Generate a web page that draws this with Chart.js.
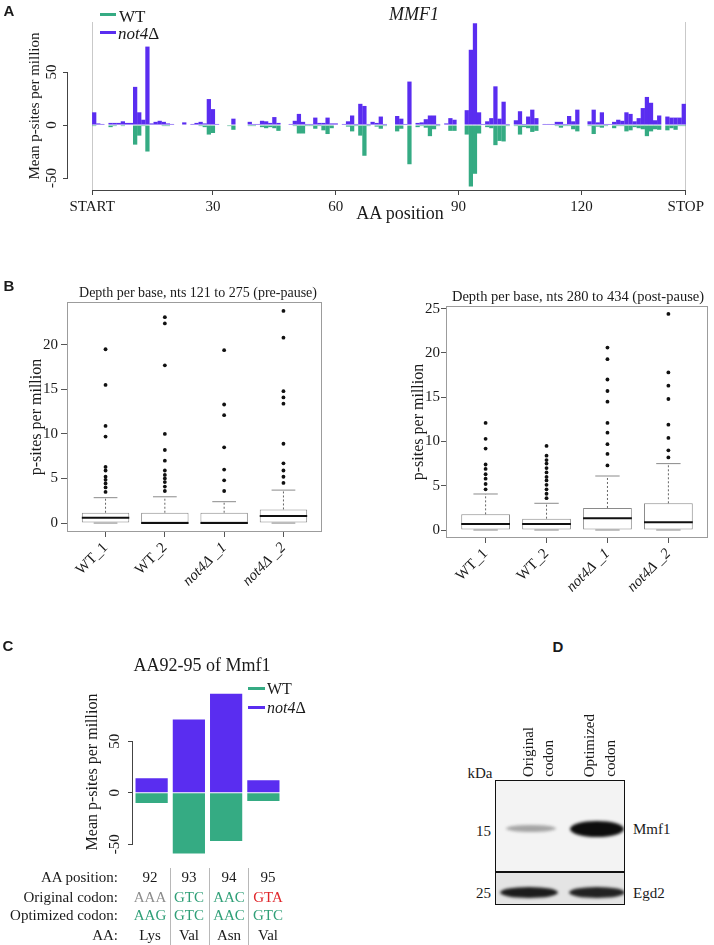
<!DOCTYPE html>
<html>
<head>
<meta charset="utf-8">
<title>MMF1 p-sites</title>
<script src="https://cdn.jsdelivr.net/npm/chart.js@4.4.1/dist/chart.umd.min.js"></script>
<style>
  html, body { margin: 0; padding: 0; background: #fff; }
  #page { position: relative; width: 714px; height: 945px; overflow: hidden;
          font-family: 'Liberation Serif', 'Times New Roman', serif; color: #1a1a1a; }
  #page canvas { position: absolute; }
  .t { position: absolute; white-space: nowrap; line-height: 1; }
  .c { transform: translate(-50%, -50%); }
  .l { transform: translate(0, -50%); }
  .r { transform: translate(-100%, -50%); }
  .letter { font-family: 'Liberation Sans', Arial, sans-serif; font-weight: bold; font-size: 15px; }
  .key { position: absolute; height: 3px; }
  .sep { position: absolute; width: 1px; background: #b8b8b8; }
  .vert { position: absolute; writing-mode: vertical-rl; transform: rotate(180deg);
          font-size: 15px; line-height: 1; white-space: nowrap; }
  .green { color: #2f9f77; }
  .band { position: absolute; border-radius: 50%; }
</style>
</head>
<body>
<div id="page">
  <canvas id="chartA" width="714" height="235" style="left:0;top:0"></canvas>
  <canvas id="chartPre" width="357" height="325" style="left:0;top:280px"></canvas>
  <canvas id="chartPost" width="357" height="325" style="left:357px;top:280px"></canvas>
  <canvas id="chartC" width="360" height="230" style="left:0;top:640px"></canvas>

  <!-- panel A -->
  <div class="t c letter" style="left:9px;top:10px">A</div>
  <div class="t c" style="left:414px;top:14px;font-size:18px;font-style:italic">MMF1</div>
  <div class="key" style="left:100px;top:13px;width:16px;background:#35AB83"></div>
  <div class="t l" style="left:119px;top:16px;font-size:17px">WT</div>
  <div class="key" style="left:100px;top:31px;width:16px;background:#5A2DF0"></div>
  <div class="t l" style="left:118px;top:33px;font-size:17px"><i>not4</i>Δ</div>
  <div class="t c" style="left:400px;top:213px;font-size:18px">AA position</div>

  <!-- panel B -->
  <div class="t c letter" style="left:9px;top:285px">B</div>
  <div class="t c" style="left:198px;top:293px;font-size:14px">Depth per base, nts 121 to 275 (pre-pause)</div>
  <div class="t c" style="left:578px;top:296px;font-size:14.5px">Depth per base, nts 280 to 434 (post-pause)</div>

  <!-- panel C -->
  <div class="t c letter" style="left:8px;top:645px">C</div>
  <div class="t c" style="left:202px;top:665px;font-size:18px">AA92-95 of Mmf1</div>
  <div class="key" style="left:248px;top:687px;width:17px;background:#35AB83"></div>
  <div class="t l" style="left:267px;top:689px;font-size:16px">WT</div>
  <div class="key" style="left:248px;top:706px;width:17px;background:#5A2DF0"></div>
  <div class="t l" style="left:267px;top:708px;font-size:16px"><i>not4</i>Δ</div>

  <div class="sep" style="left:170px;top:868px;height:77px"></div>
  <div class="sep" style="left:209px;top:868px;height:77px"></div>
  <div class="sep" style="left:248px;top:868px;height:77px"></div>
  <div id="codonTable"></div>

  <!-- panel D -->
  <div class="t c letter" style="left:558px;top:646px">D</div>
  <div class="t c" style="left:480px;top:773px;font-size:15px">kDa</div>
  <div class="vert" style="left:521px;bottom:168px">Original</div>
  <div class="vert" style="left:541px;bottom:168px">codon</div>
  <div class="vert" style="left:582px;bottom:168px">Optimized</div>
  <div class="vert" style="left:603px;bottom:168px">codon</div>
  <div style="position:absolute;left:495px;top:780px;width:130px;height:125px;border:1.5px solid #111;box-sizing:border-box;background:#f3f3f3;overflow:hidden">
    <div style="position:absolute;left:0;right:0;top:91px;bottom:0;background:#e4e4e4"></div>
    <div class="band" style="left:10px;top:44px;width:50px;height:7px;background:rgba(70,70,70,0.45);filter:blur(1.5px)"></div>
    <div class="band" style="left:74px;top:40px;width:54px;height:16px;background:#0d0d0d;filter:blur(1.5px)"></div>
    <div class="band" style="left:4px;top:106px;width:58px;height:11px;background:#1c1c1c;filter:blur(1.5px)"></div>
    <div class="band" style="left:73px;top:106px;width:56px;height:11px;background:#222;filter:blur(1.5px)"></div>
    <div style="position:absolute;left:0;right:0;top:90px;height:1.5px;background:#111"></div>
  </div>
  <div class="t l" style="left:633px;top:829px;font-size:15px">Mmf1</div>
  <div class="t r" style="left:491px;top:831px;font-size:15px">15</div>
  <div class="t l" style="left:633px;top:893px;font-size:15px">Egd2</div>
  <div class="t r" style="left:491px;top:893px;font-size:15px">25</div>
</div>

<script>
// ---- panel A: mean p-sites per AA (AA 1..145) ----
const aaNot4 = [
  12, 1.5, 1, 0.5, 2, 2, 2, 3.5, 2, 2,
  36, 12, 5, 74, 1.5, 3, 4, 3, 1.5, 1,
  0.5, 0.5, 2.5, 0, 1, 2, 3, 1.5, 24.5, 15,
  1, 0.5, 0, 0.5, 6, 0.5, 0.5, 0.5, 3, 1,
  1, 4, 3.5, 2, 7.5, 2, 0.5, 0.5, 1, 4,
  10.5, 3, 1, 1, 7, 2, 2, 7, 1.5, 1.5,
  0.5, 1, 3.5, 9, 1, 20, 18, 1, 3, 2,
  8, 1, 0.5, 0.5, 8.5, 6, 1, 41, 0.5, 2,
  2.5, 5.5, 9, 9, 1, 0, 1.5, 6.5, 5, 0.5,
  0.5, 14, 71, 96, 12, 1, 3.5, 6.5, 36.5, 6,
  22, 1, 0.5, 4.5, 13, 1, 8, 14.5, 6.5, 0.5,
  1, 1, 1, 3, 3, 1, 8.5, 3.5, 14.5, 0,
  0.5, 3.5, 14.5, 2.5, 12, 1, 1, 3, 5, 4,
  12, 10.5, 3.5, 6.5, 16, 26.5, 21, 4.5, 9, 0.5,
  8, 7, 7, 7, 20
];
const aaWT = [
  -1, 0, 0, -0.5, -2, -1, -0.5, -1, 0, -0.5,
  -18.5, -10, -1, -25, 0, 0, -0.5, -1, -1, -0.5,
  0, 0, 0, 0, 0, -0.5, -1, -2, -9, -7.5,
  0, 0, 0, -1, -4.5, 0, 0, -0.5, -1, -1,
  -0.5, -2, -3, -2, -3, -5.5, -0.5, 0, -0.5, -1,
  -8, -8, -1, -1, -3.5, -1, -5, -8.5, -3, -0.5,
  0, -0.5, -1.5, -6, -1, -10, -29, -1, 0, -1.5,
  -3.5, -1, 0, 0, -6, -3.5, -0.5, -37, 0, -2,
  -1, -2.5, -10.5, -4, -1, 0, -0.5, -5.5, -5.5, 0,
  0, -9, -58, -46, -8, -0.5, -2, -3, -19, -15,
  -15.5, -1, 0, -1, -9, -2, -3, -6.5, -5.5, 0,
  0, 0, 0, -1, -2.5, -1, -1, -4, -6, 0,
  0, -1, -8.5, -1.5, -2.5, -1, -0.5, -3, -1, -1,
  -6, -5, -2, -3, -4, -10.5, -6, -4, -4.5, -0.5,
  -5, -3, -4.5, -1, -1
];
const aaTickVals = [0.5, 30, 60, 90, 120, 145.5];
const aaTickLabels = ['START', '30', '60', '90', '120', 'STOP'];
const aaYTicks = [-50, 0, 50];

// ---- panel B: box plots ----
const boxGroups = ['WT_1', 'WT_2', 'not4Δ _1', 'not4Δ _2'];
const preLow = [0, 0, 0, 0];
const preQ1 = [0, 0, 0, 0];
const preMed = [0.6, 0, 0, 0.8];
const preQ3 = [1.16, 1.16, 1.16, 1.53];
const preHigh = [2.85, 2.95, 2.4, 3.7];
const preOut = [
  [3.5, 4.0, 4.45, 4.85, 5.2, 5.9, 6.3, 9.7, 10.9, 15.5, 19.5],
  [3.6, 4.1, 4.6, 5.0, 5.4, 5.9, 7.0, 8.2, 10.0, 17.7, 22.4, 23.1],
  [3.6, 4.8, 6.0, 8.5, 12.1, 13.3, 19.4],
  [4.5, 5.2, 5.9, 6.7, 8.9, 13.4, 14.1, 14.8, 20.8, 23.8]
];
const preYTicks = [0, 5, 10, 15, 20];

const postLow = [0, 0, 0, 0];
const postQ1 = [0, 0, 0, 0];
const postMed = [0.68, 0.68, 1.32, 0.87];
const postQ3 = [1.77, 1.28, 2.49, 3.02];
const postHigh = [4.07, 3.02, 6.1, 7.5];
const postOut = [
  [4.6, 5.2, 5.8, 6.3, 6.9, 7.4, 9.2, 10.3, 12.1],
  [3.6, 4.1, 4.6, 5.1, 5.6, 6.0, 6.5, 7.0, 7.5, 7.9, 8.4, 9.5],
  [7.3, 8.6, 9.7, 11.0, 12.1, 14.5, 15.7, 17.0, 19.3, 20.6],
  [8.2, 9.0, 10.4, 11.9, 14.8, 16.3, 17.8, 24.4]
];
const postYTicks = [0, 5, 10, 15, 20, 25];

// ---- panel C: AA 92-95 ----
const pauseAA = ['92', '93', '94', '95'];
const pauseNot4 = [14, 71, 96, 12];
const pauseWT = [-10, -59, -47, -8];
const originalCodon = ['AAA', 'GTC', 'AAC', 'GTA'];
const optimizedCodon = ['AAG', 'GTC', 'AAC', 'GTC'];
const aminoAcid = ['Lys', 'Val', 'Asn', 'Val'];

const PURPLE = '#5A2DF0';
const GREEN = '#35AB83';

Chart.defaults.font.family = "'Liberation Serif', 'Times New Roman', serif";
Chart.defaults.color = '#1a1a1a';

/* R-like axes: axis lines only between first and last tick, optional box frame */
const rAxes = {
  id: 'rAxes',
  afterDraw(chart, args, opts) {
    const {ctx, chartArea: a, scales} = chart;
    ctx.save();
    ctx.lineWidth = 1;
    if (opts.frame) {
      ctx.strokeStyle = opts.frame;
      ctx.strokeRect(a.left + 0.5, a.top + 0.5, a.width - 1, a.height - 1);
    }
    ctx.strokeStyle = '#444';
    if (opts.x) {
      const x0 = scales.x.getPixelForValue(opts.x[0]);
      const x1 = scales.x.getPixelForValue(opts.x[1]);
      ctx.beginPath();
      ctx.moveTo(x0, a.bottom + 0.5);
      ctx.lineTo(x1, a.bottom + 0.5);
      ctx.stroke();
    }
    if (opts.y) {
      const y0 = scales.y.getPixelForValue(opts.y[0]);
      const y1 = scales.y.getPixelForValue(opts.y[1]);
      ctx.beginPath();
      ctx.moveTo(a.left - 0.5, y0);
      ctx.lineTo(a.left - 0.5, y1);
      ctx.stroke();
    }
    ctx.restore();
  }
};
Chart.register(rAxes);

function fixedTicks(values) {
  return function(scale) { scale.ticks = values.map(v => ({value: v})); };
}

/* Panel A */
new Chart(document.getElementById('chartA'), {
  type: 'bar',
  data: {
    datasets: [
      {label: 'not4Δ', data: aaNot4.map((v, i) => ({x: i + 1, y: v})), backgroundColor: PURPLE},
      {label: 'WT', data: aaWT.map((v, i) => ({x: i + 1, y: v})), backgroundColor: GREEN}
    ]
  },
  options: {
    responsive: false,
    animation: false,
    events: [],
    layout: {padding: {left: 0, right: 20, top: 22, bottom: 0}},
    datasets: {bar: {grouped: false, barPercentage: 1.04, categoryPercentage: 1, borderWidth: 0}},
    plugins: {
      legend: {display: false},
      tooltip: {enabled: false},
      rAxes: {x: [aaTickVals[0], aaTickVals[aaTickVals.length - 1]], y: [-50, 50]}
    },
    scales: {
      x: {
        type: 'linear', min: -5.4, max: 147.5, offset: false,
        afterBuildTicks: fixedTicks(aaTickVals),
        afterFit: s => { s.height = 45; },
        ticks: {callback: (v, i) => aaTickLabels[i], autoSkip: false, maxRotation: 0, padding: 3, font: {size: 15}},
        grid: {
          offset: false, drawOnChartArea: true, tickLength: 5, tickColor: '#444',
          color: c => (c.tick && (c.tick.value === 0.5 || c.tick.value === 145.5)) ? '#c9c9c9' : 'rgba(0,0,0,0)'
        },
        border: {display: false}
      },
      y: {
        min: -61.3, max: 97.2,
        afterBuildTicks: fixedTicks(aaYTicks),
        afterFit: s => { s.width = 68; },
        ticks: {minRotation: 90, maxRotation: 90, crossAlign: 'center', padding: 1, font: {size: 15}},
        grid: {drawOnChartArea: false, tickLength: 5, tickColor: '#444'},
        border: {display: false},
        title: {display: true, text: 'Mean p-sites per million', font: {size: 15}, padding: {top: 26, bottom: 0}}
      }
    }
  }
});

/* Panel B box plots */
function boxChart(id, low, q1, med, q3, high, out, yMin, yMax, yTicks, lay) {
  const halfPx = (c, u) => {
    const s = c.chart.scales.x;
    return Math.abs(s.getPixelForValue(1 + u) - s.getPixelForValue(1));
  };
  const whiskers = [];
  const caps = [];
  boxGroups.forEach((g, i) => {
    whiskers.push({x: i + 1, y: q3[i]}, {x: i + 1, y: high[i]}, {x: i + 1, y: null});
    whiskers.push({x: i + 1, y: low[i]}, {x: i + 1, y: q1[i]}, {x: i + 1, y: null});
    caps.push({x: i + 1, y: high[i]}, {x: i + 1, y: low[i]});
  });
  const outliers = out.flatMap((arr, i) => arr.map(v => ({x: i + 1, y: v})));

  new Chart(document.getElementById(id), {
    type: 'bar',
    data: {
      datasets: [
        {type: 'scatter', data: outliers, pointStyle: 'circle', radius: 1.9,
         backgroundColor: '#111', borderWidth: 0, order: 1},
        {type: 'scatter', data: med.map((v, i) => ({x: i + 1, y: v})), pointStyle: 'line',
         radius: c => halfPx(c, 0.4), borderColor: '#111', borderWidth: 2, order: 1},
        {type: 'scatter', data: caps, pointStyle: 'line',
         radius: c => halfPx(c, 0.2), borderColor: '#8a8a8a', borderWidth: 1, order: 2},
        {type: 'line', data: whiskers, borderColor: '#666', borderWidth: 1, borderDash: [2, 2],
         pointRadius: 0, spanGaps: false, fill: false, order: 3},
        {type: 'bar', data: q1.map((v, i) => ({x: i + 1, y: [v, q3[i]]})), backgroundColor: '#fff',
         borderColor: '#8a8a8a', borderWidth: 1, borderSkipped: false,
         barPercentage: 0.8, categoryPercentage: 1, order: 4}
      ]
    },
    options: {
      responsive: false,
      animation: false,
      events: [],
      layout: {padding: {left: 0, right: lay.right, top: lay.top, bottom: 0}},
      plugins: {legend: {display: false}, tooltip: {enabled: false}, rAxes: {frame: '#9c9c9c'}},
      scales: {
        x: {
          type: 'linear', min: 0.35, max: 4.65, offset: false,
          afterBuildTicks: fixedTicks([1, 2, 3, 4]),
          afterFit: s => { s.height = lay.xHeight; },
          ticks: {
            callback: (v, i) => boxGroups[i], autoSkip: false, minRotation: 45, maxRotation: 45, padding: 2,
            font: c => ({size: 15, style: c.index >= 2 ? 'italic' : 'normal'})
          },
          grid: {offset: false, drawOnChartArea: false, tickLength: 5, tickColor: '#555'},
          border: {display: false}
        },
        y: {
          min: yMin, max: yMax,
          afterBuildTicks: fixedTicks(yTicks),
          afterFit: s => { s.width = lay.yWidth; },
          ticks: {padding: lay.tickPad, font: {size: 15}},
          grid: {drawOnChartArea: false, tickLength: lay.tickLen, tickColor: '#555'},
          border: {display: false},
          title: {display: true, text: 'p-sites per million', font: {size: 16}, padding: {top: lay.titlePad, bottom: 0}}
        }
      }
    }
  });
}

boxChart('chartPre', preLow, preQ1, preMed, preQ3, preHigh, preOut, -1.0, 24.8, preYTicks,
  {right: 35, top: 22, xHeight: 73, yWidth: 67, tickLen: 6, tickPad: 3, titlePad: 27});
boxChart('chartPost', postLow, postQ1, postMed, postQ3, postHigh, postOut, -0.9, 25.3, postYTicks,
  {right: 6, top: 26, xHeight: 67, yWidth: 89, tickLen: 5, tickPad: 1, titlePad: 52});

/* Panel C */
new Chart(document.getElementById('chartC'), {
  type: 'bar',
  data: {
    labels: pauseAA,
    datasets: [
      {label: 'not4Δ', data: pauseNot4, backgroundColor: PURPLE},
      {label: 'WT', data: pauseWT, backgroundColor: GREEN}
    ]
  },
  options: {
    responsive: false,
    animation: false,
    events: [],
    layout: {padding: {left: 0, right: 78, top: 48, bottom: 14}},
    datasets: {bar: {grouped: false, barPercentage: 0.865, categoryPercentage: 1, borderWidth: 0}},
    plugins: {legend: {display: false}, tooltip: {enabled: false}, rAxes: {y: [-50, 50]}},
    scales: {
      x: {display: false},
      y: {
        min: -61.5, max: 101.7,
        afterBuildTicks: fixedTicks(aaYTicks),
        afterFit: s => { s.width = 133; },
        ticks: {minRotation: 90, maxRotation: 90, crossAlign: 'center', padding: 3, font: {size: 15}},
        grid: {drawOnChartArea: false, tickLength: 5, tickColor: '#444'},
        border: {display: false},
        title: {display: true, text: 'Mean p-sites per million', font: {size: 16}, padding: {top: 83, bottom: 0}}
      }
    }
  }
});

/* codon table under panel C */
(function() {
  const table = document.getElementById('codonTable');
  const colX = [150, 189, 229, 268];
  const rowY = [877, 897, 915, 935];
  const rowLabels = ['AA position:', 'Original codon:', 'Optimized codon:', 'AA:'];
  const origColor = ['#8c8c8c', '#2f9f77', '#2f9f77', '#e0262b'];
  let html = '';
  rowLabels.forEach((lab, r) => {
    html += `<div class="t r" style="left:118px;top:${rowY[r]}px;font-size:15px">${lab}</div>`;
  });
  pauseAA.forEach((aa, i) => {
    html += `<div class="t c" style="left:${colX[i]}px;top:${rowY[0]}px;font-size:15px">${aa}</div>`;
    html += `<div class="t c" style="left:${colX[i]}px;top:${rowY[1]}px;font-size:15px;color:${origColor[i]}">${originalCodon[i]}</div>`;
    html += `<div class="t c green" style="left:${colX[i]}px;top:${rowY[2]}px;font-size:15px">${optimizedCodon[i]}</div>`;
    html += `<div class="t c" style="left:${colX[i]}px;top:${rowY[3]}px;font-size:15px">${aminoAcid[i]}</div>`;
  });
  table.innerHTML = html;
})();
</script>
</body>
</html>
